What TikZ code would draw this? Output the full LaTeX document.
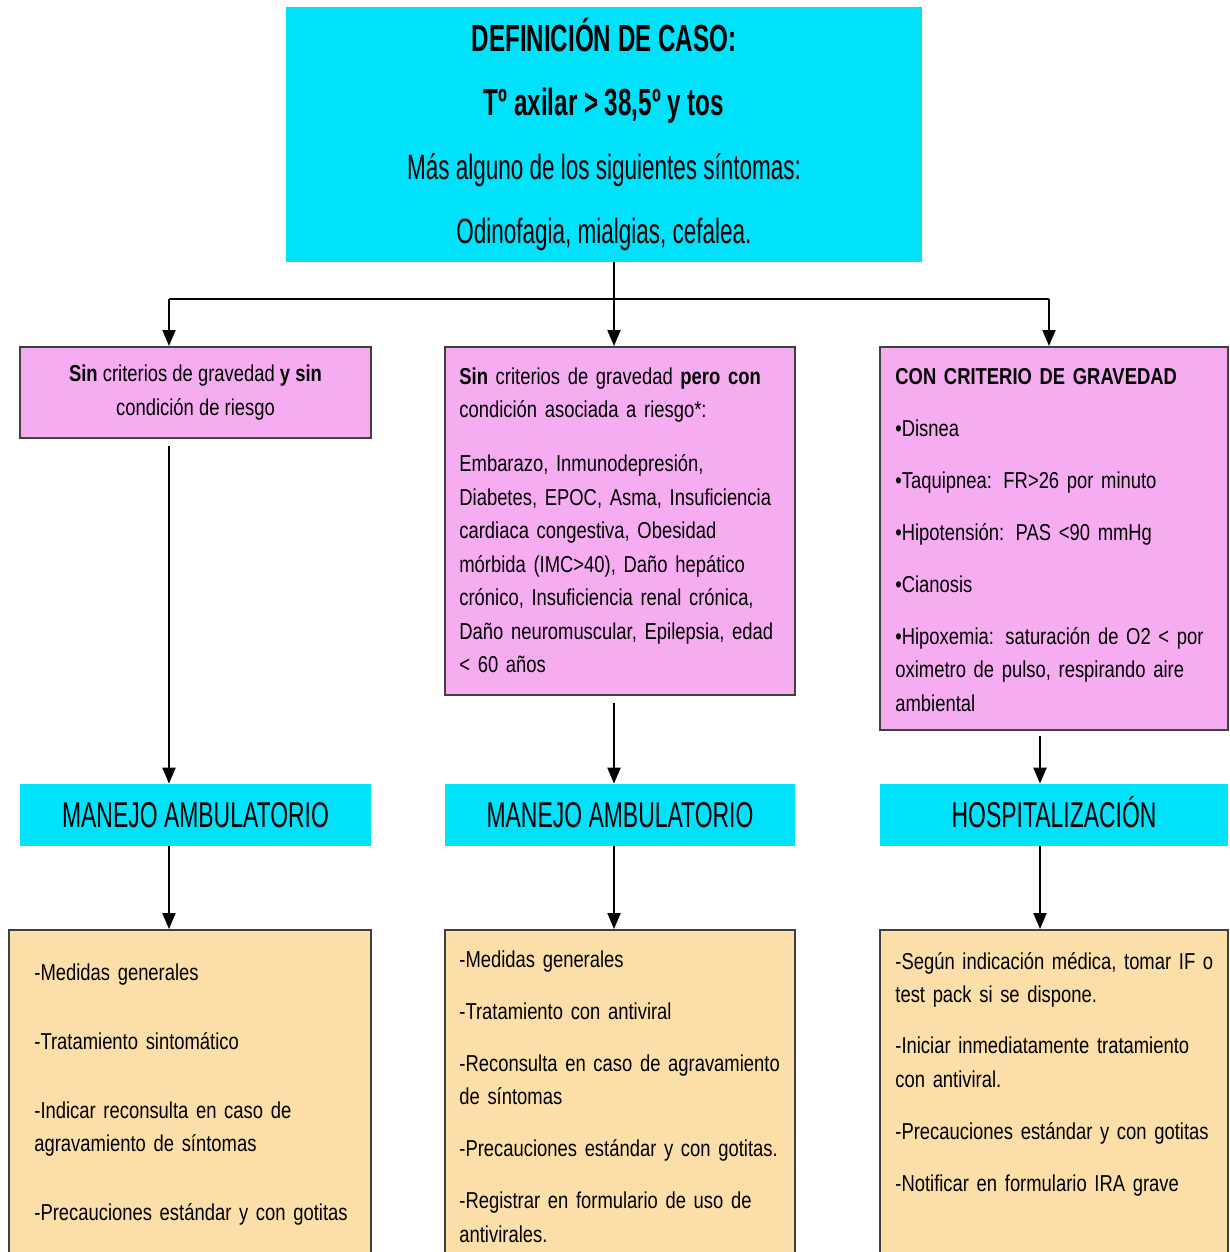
\documentclass[tikz,border=0pt]{standalone}
\usepackage{fontspec}
\setmainfont{Liberation Sans}[FakeStretch=0.8]
\newfontfamily\narrowfont{Liberation Sans}[FakeStretch=0.64]
\usetikzlibrary{arrows.meta, positioning}

\definecolor{cyanfill}{RGB}{0,225,250}
\definecolor{pinkfill}{RGB}{245,172,240}
\definecolor{tanfill}{RGB}{252,222,168}

\newcommand{\bodyfont}{\fontsize{13.1}{19.1}\selectfont}
\newcommand{\headfont}{\narrowfont\fontsize{20.4}{24}\selectfont}

\begin{document}
\begin{tikzpicture}[
      cyanbox/.style={fill=cyanfill, inner sep=0pt, align=center, font=\headfont},
      headbox/.style={cyanbox, minimum height=1.24cm, text height=14.6pt, text depth=0pt},
      pinkbox/.style={fill=pinkfill, draw=black!75, line width=1.1pt},
      tanbox/.style={fill=tanfill, draw=black!75, line width=1.1pt},
      txt/.style={anchor=base west, inner sep=0pt, align=left, text width=8cm, font=\bodyfont},
      lnk/.style={line width=1.1pt},
      arr/.style={lnk, -{Triangle[length=0.32cm, width=0.26cm]}}
    ]
      \path[use as bounding box, fill=white] (0,0) rectangle (24.58,-25.04);

      % case definition
      \node[cyanbox, minimum width=12.72cm, minimum height=5.10cm,
            font=\narrowfont\fontsize{20}{36.4}\selectfont] (top) at (12.08,-2.69)
        {{\fontsize{21.5}{36.4}\selectfont\bfseries DEFINICIÓN DE CASO:}\\
         {\fontsize{21.5}{36.4}\selectfont\bfseries Tº axilar > 38,5º y tos}\\
         Más alguno de los siguientes síntomas:\\
         Odinofagia, mialgias, cefalea.};

      % criteria
      \node[pinkbox, minimum width=7.02cm, minimum height=1.82cm, align=center, font=\bodyfont] (pk1) at (3.91,-7.85)
        {\textbf{Sin} criterios de gravedad \textbf{y sin}\\condición de riesgo};
      \node[pinkbox, minimum width=7.00cm, minimum height=6.96cm] (pk2) at (12.40,-10.42) {};
      \node[pinkbox, minimum width=6.96cm, minimum height=7.66cm] (pk3) at (21.08,-10.77) {};

      \node[txt] (pk2t) at ([shift={(0.30,-0.76)}]pk2.north west)
        {\textbf{Sin} criterios de gravedad \textbf{pero con}\\
         condición asociada a riesgo*:\\[11.6pt]
         Embarazo, Inmunodepresión,\\
         Diabetes, EPOC, Asma, Insuficiencia\\
         cardiaca congestiva, Obesidad\\
         mórbida (IMC>40), Daño hepático\\
         crónico, Insuficiencia renal crónica,\\
         Daño neuromuscular, Epilepsia, edad\\
         < 60 años};
      \node[txt] (pk3t) at ([shift={(0.32,-0.76)}]pk3.north west)
        {\textbf{CON CRITERIO DE GRAVEDAD}\\[10.5pt]
         •Disnea\\[10.5pt]
         •Taquipnea: FR>26 por minuto\\[10.5pt]
         •Hipotensión: PAS <90 mmHg\\[10.5pt]
         •Cianosis\\[10.5pt]
         •Hipoxemia: saturación de O2 < por\\
         oximetro de pulso, respirando aire\\
         ambiental};

      % management
      \node[headbox, minimum width=7.02cm] (amb1) at (3.91,-16.30) {MANEJO AMBULATORIO};
      \node[headbox, minimum width=7.00cm] (amb2) at (12.40,-16.30) {MANEJO AMBULATORIO};
      \node[headbox, minimum width=6.96cm] (hosp) at (21.08,-16.30) {HOSPITALIZACIÓN};

      % measures
      \node[tanbox, minimum width=7.24cm, minimum height=6.70cm] (tn1) at (3.80,-21.95) {};
      \node[tanbox, minimum width=7.00cm, minimum height=6.70cm] (tn2) at (12.40,-21.95) {};
      \node[tanbox, minimum width=6.96cm, minimum height=6.70cm] (tn3) at (21.08,-21.95) {};

      \node[txt] (tn1t) at ([shift={(0.52,-1.02)}]tn1.north west)
        {-Medidas generales\\[20.2pt]
         -Tratamiento sintomático\\[20.2pt]
         -Indicar reconsulta en caso de\\
         agravamiento de síntomas\\[20.2pt]
         -Precauciones estándar y con gotitas};
      \node[txt] (tn2t) at ([shift={(0.30,-0.76)}]tn2.north west)
        {-Medidas generales\\[10.5pt]
         -Tratamiento con antiviral\\[10.5pt]
         -Reconsulta en caso de agravamiento\\
         de síntomas\\[10.5pt]
         -Precauciones estándar y con gotitas.\\[10.5pt]
         -Registrar en formulario de uso de\\
         antivirales.};
      \node[txt] (tn3t) at ([shift={(0.32,-0.80)}]tn3.north west)
        {-Según indicación médica, tomar IF o\\
         test pack si se dispone.\\[10pt]
         -Iniciar inmediatamente tratamiento\\
         con antiviral.\\[10.5pt]
         -Precauciones estándar y con gotitas\\[10.5pt]
         -Notificar en formulario IRA grave};

      % connectors
      \coordinate (busL) at (3.38,-5.98);
      \coordinate (bus)  at (12.28,-5.98);
      \coordinate (busR) at (20.98,-5.98);
      \coordinate (colR) at (20.80,-15.5);

      \draw[lnk] (busL) -- (busR);
      \draw[arr] (top.south -| bus) -- (bus |- pk2.north);
      \draw[arr] (busL) -- (busL |- pk1.north);
      \draw[arr] (busR) -- (busR |- pk3.north);

      \draw[arr, shorten <=0.14cm] (pk1.south -| busL) -- (busL |- amb1.north);
      \draw[arr, shorten <=0.14cm] (pk2.south -| bus) -- (bus |- amb2.north);
      \draw[arr, shorten <=0.10cm] (pk3.south -| colR) -- (colR |- hosp.north);

      \draw[arr] (amb1.south -| busL) -- (busL |- tn1.north);
      \draw[arr] (amb2.south -| bus) -- (bus |- tn2.north);
      \draw[arr] (hosp.south -| colR) -- (colR |- tn3.north);
    \end{tikzpicture}
\end{document}
